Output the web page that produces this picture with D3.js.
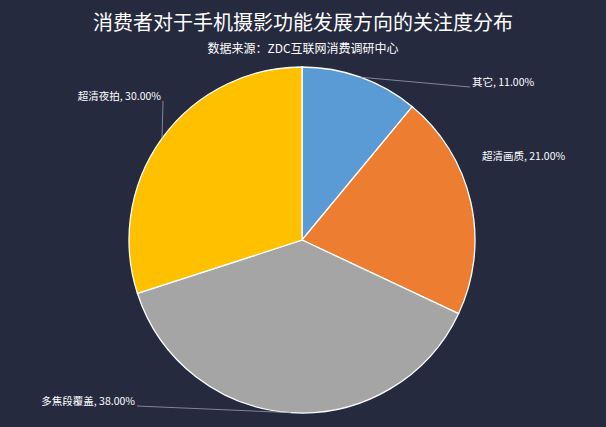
<!DOCTYPE html>
<html>
<head>
<meta charset="utf-8">
<script src="https://cdn.jsdelivr.net/npm/d3@7"></script>
<style>
  body { margin: 0; background: #262a3f; }
  text { font-family: "Noto Sans CJK SC", "Noto Sans", sans-serif; fill: #fff; }
</style>
</head>
<body>
<svg id="chart" width="606" height="427"></svg>
<script>
  var categories = ['其它', '超清画质', '多焦段覆盖', '超清夜拍'];
  var values = [11, 21, 38, 30];
  var colors = ['#5b9bd5', '#ed7d31', '#a5a5a5', '#ffc000'];

  // label anchor (end of leader line) and text-anchor per slice
  var labelPos = [[470, 87, 'start'], [480, 161, 'start'], [137, 406, 'end'], [163, 101, 'end']];

  var svg = d3.select('#chart');
  var cx = 302, cy = 240, r = 173;

  svg.append('text').attr('x', 303).attr('y', 30).attr('text-anchor', 'middle')
    .style('font-size', '20px').text('消费者对于手机摄影功能发展方向的关注度分布');
  svg.append('text').attr('x', 303).attr('y', 53).attr('text-anchor', 'middle')
    .style('font-size', '12px').text('数据来源：ZDC互联网消费调研中心');

  var pie = d3.pie().sort(null);
  var arc = d3.arc().innerRadius(0).outerRadius(r);
  var arcs = pie(values);

  var g = svg.append('g').attr('transform', 'translate(' + cx + ',' + cy + ')');

  g.selectAll('path').data(arcs).enter().append('path')
    .attr('d', arc)
    .attr('fill', function (d, i) { return colors[i]; })
    .attr('stroke', '#fff').attr('stroke-width', 1.3);

  arcs.forEach(function (d, i) {
    var a = (d.startAngle + d.endAngle) / 2;
    var x0 = cx + r * Math.sin(a), y0 = cy - r * Math.cos(a);
    var p = labelPos[i];
    if (i !== 1) {
      svg.append('line').attr('x1', x0).attr('y1', y0).attr('x2', p[0]).attr('y2', p[1])
        .attr('stroke', '#9a9cab').attr('stroke-width', 0.8);
    }
    svg.append('text').attr('x', p[2] === 'start' ? p[0] + 2 : p[0] - 2).attr('y', p[1] - 1)
      .attr('text-anchor', p[2]).style('font-size', '10.5px')
      .text(categories[i] + ', ' + values[i].toFixed(2) + '%');
  });
</script>
</body>
</html>
